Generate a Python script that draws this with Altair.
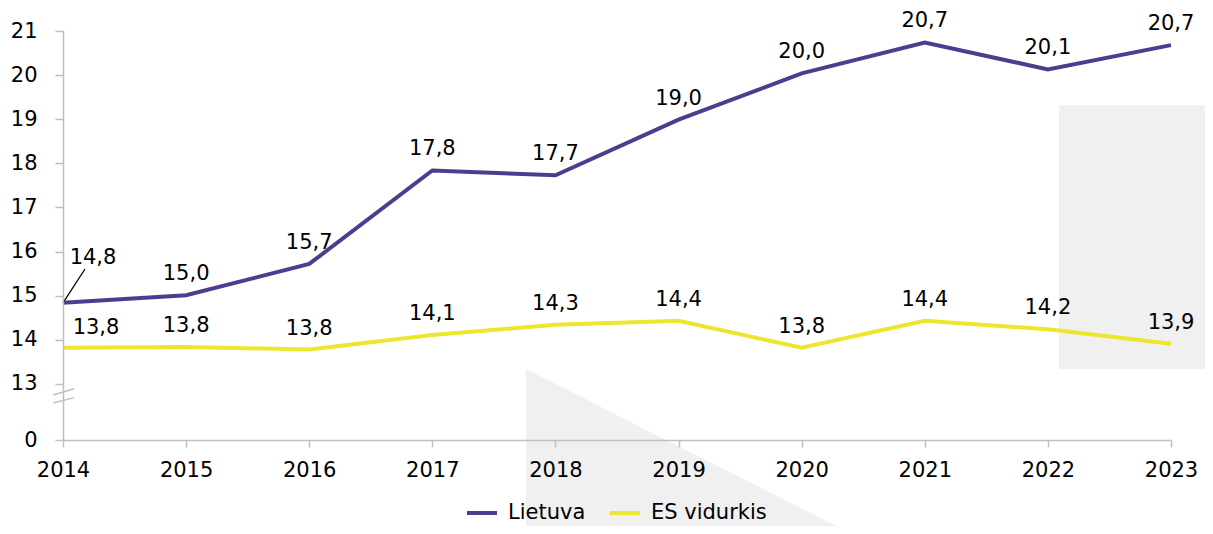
import altair as alt
import pandas as pd

years = [2014, 2015, 2016, 2017, 2018, 2019, 2020, 2021, 2022, 2023]
lietuva = [14.84, 15.01, 15.72, 17.84, 17.73, 18.99, 20.04, 20.74, 20.13, 20.68]
es_vid = [13.82, 13.84, 13.78, 14.11, 14.34, 14.43, 13.82, 14.43, 14.24, 13.91]
series_names = ["Lietuva", "ES vidurkis"]
series_colors = ["#4B3E8E", "#ECE62E"]
y_ticks = [11.73, 13, 14, 15, 16, 17, 18, 19, 20, 21]

# decorative background shapes (in data units)
rect_x = [2022.09]
rect_x2 = [2023.5]
rect_y = [19.32]
rect_y2 = [13.34]
tri_x = [2017.76, 2020.41]
tri_top = [13.34, 9.60]
tri_bottom = [9.40, 9.40]
brk_x = [2013.92, 2013.92]
brk_x2 = [2014.09, 2014.09]
brk_y = [12.75, 12.57]
brk_y2 = [12.89, 12.69]

FONT = "DejaVu Sans"
FS = 21

rows = []
for name, vals in zip(series_names, [lietuva, es_vid]):
    for yr, v in zip(years, vals):
        rows.append({"year": yr, "series": name, "value": v,
                     "label": f"{v:.1f}".replace(".", ",")})
df = pd.DataFrame(rows)

xs = alt.Scale(domain=[2014, 2023], nice=False, zero=False)
ys = alt.Scale(domain=[11.73, 21], nice=False, zero=False)

rect = alt.Chart(pd.DataFrame({"x": rect_x, "x2": rect_x2, "y": rect_y, "y2": rect_y2})).mark_rect(
    color="#F0F0F0").encode(
    x=alt.X("x:Q", scale=xs), x2="x2:Q", y=alt.Y("y:Q", scale=ys), y2="y2:Q")

tri = alt.Chart(pd.DataFrame({"x": tri_x, "top": tri_top, "bottom": tri_bottom})).mark_area(
    color="#F0F0F0").encode(
    x=alt.X("x:Q", scale=xs), y=alt.Y("top:Q", scale=ys), y2="bottom:Q")

brk = alt.Chart(pd.DataFrame({"x": brk_x, "x2": brk_x2, "y": brk_y, "y2": brk_y2})).mark_rule(
    color="#BFBFBF", strokeWidth=1.5).encode(
    x=alt.X("x:Q", scale=xs), x2="x2:Q", y=alt.Y("y:Q", scale=ys), y2="y2:Q")

base = alt.Chart(df)

lines = base.mark_line(strokeWidth=4).encode(
    x=alt.X("year:Q", scale=xs,
            axis=alt.Axis(title=None, values=years, format="d", grid=False, zindex=1,
                          domainColor="#BFBFBF", domainWidth=1.5, tickColor="#BFBFBF",
                          tickWidth=1.5, tickSize=7, labelFont=FONT, labelFontSize=FS,
                          labelColor="#000000", labelPadding=12, labelFlush=False)),
    y=alt.Y("value:Q", scale=ys,
            axis=alt.Axis(title=None, values=y_ticks, grid=False, zindex=1,
                          labelExpr="datum.value < 12 ? '0' : format(datum.value, 'd')",
                          domainColor="#BFBFBF", domainWidth=1.5, tickColor="#BFBFBF",
                          tickWidth=1.5, tickSize=8, labelFont=FONT, labelFontSize=FS,
                          labelColor="#000000", labelPadding=18)),
    color=alt.Color("series:N", scale=alt.Scale(domain=series_names, range=series_colors),
                    sort=series_names,
                    legend=alt.Legend(title=None, orient="none", direction="horizontal",
                                      legendX=402, legendY=465,
                                      symbolType="stroke", symbolSize=900, symbolStrokeWidth=4,
                                      labelFont=FONT, labelFontSize=FS, labelColor="#000000",
                                      labelOffset=9, columnPadding=16)),
)

labels = base.transform_filter(
    "!(datum.year == 2014)"
).mark_text(font=FONT, fontSize=FS, color="#000000", baseline="middle", dy=-21).encode(
    x=alt.X("year:Q", scale=xs), y=alt.Y("value:Q", scale=ys), text="label:N")

first_es = base.transform_filter("datum.year == 2014 && datum.series == 'ES vidurkis'").mark_text(
    font=FONT, fontSize=FS, color="#000000", baseline="middle", dx=33, dy=-20).encode(
    x=alt.X("year:Q", scale=xs), y=alt.Y("value:Q", scale=ys), text="label:N")

first = base.transform_filter("datum.year == 2014 && datum.series == 'Lietuva'")
first_label = first.mark_text(font=FONT, fontSize=FS, color="#000000", baseline="middle",
                              dx=30, dy=-45).encode(
    x=alt.X("year:Q", scale=xs), y=alt.Y("value:Q", scale=ys), text="label:N")
leader = first.mark_rule(color="#000000", strokeWidth=1.3).encode(
    x=alt.X("year:Q", scale=xs), y=alt.Y("value:Q", scale=ys),
    x2=alt.value(22), y2=alt.value(238))

chart = alt.layer(rect, tri, brk, lines, labels, first_es, first_label, leader).properties(
    width=1108, height=409,
    autosize=alt.AutoSizeParams(type="none"),
    padding={"left": 55, "top": 23, "right": 34, "bottom": 86},
).configure_view(stroke=None)

chart.save("out.html", embed_options={"renderer": "svg", "actions": False})
